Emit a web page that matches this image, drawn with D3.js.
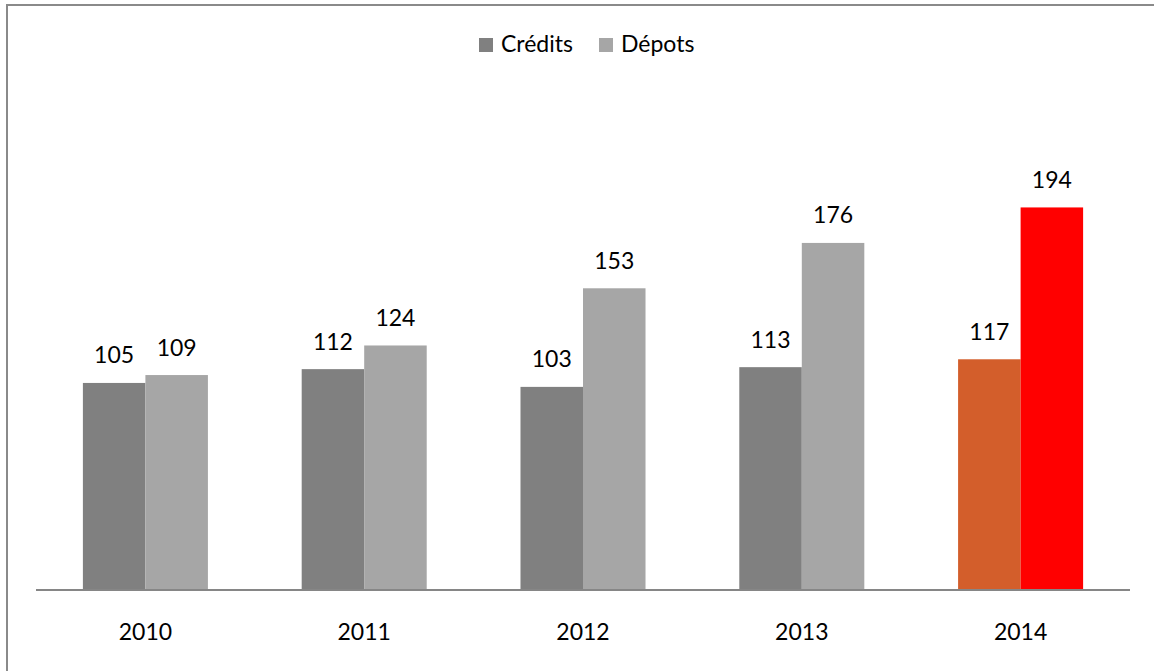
<!DOCTYPE html>
<html>
<head>
<meta charset="utf-8">
<script src="https://cdn.jsdelivr.net/npm/d3@7"></script>
<style>
  html, body { margin: 0; padding: 0; background: #fff; }
  svg { display: block; }
  text { font-family: Lato, "Open Sans", "Liberation Sans", sans-serif; fill: #000; }
</style>
</head>
<body>
<svg id="chart" width="1154" height="671"></svg>
<script>
// Yearly totals by series
const years = ["2010", "2011", "2012", "2013", "2014"];
const seriesNames = ["Crédits", "Dépots"];
const credits = [105, 112, 103, 113, 117];
const depots = [109, 124, 153, 176, 194];
const seriesColors = ["#808080", "#A6A6A6"];
const highlightColors = ["#D35E2B", "#FF0000"]; // last year stands out

const W = 1154, H = 671;
const FONT = 23;
const svg = d3.select("#chart");

// frame (left and top edges visible)
svg.append("path")
  .attr("d", `M7,${H} V5 H${W}`)
  .attr("fill", "none")
  .attr("stroke", "#8a8a8a")
  .attr("stroke-width", 2);

const plotLeft = 36, plotRight = 1130, baseY = 590, topY = 97;

const x = d3.scaleBand()
  .domain(years)
  .range([plotLeft, plotRight])
  .paddingInner(0.4286)
  .paddingOuter(0.2143);

const xSub = d3.scaleBand()
  .domain(seriesNames)
  .range([0, x.bandwidth()]);

const y = d3.scaleLinear().domain([0, 250]).range([baseY, topY]);

const rows = years.map((yr, i) => ({
  year: yr,
  values: [
    { series: seriesNames[0], value: credits[i], s: 0 },
    { series: seriesNames[1], value: depots[i], s: 1 }
  ],
  last: i === years.length - 1
}));

const groups = svg.append("g").selectAll("g")
  .data(rows)
  .join("g")
  .attr("transform", d => `translate(${x(d.year)},0)`);

groups.selectAll("rect")
  .data(d => d.values.map(v => ({ ...v, last: d.last })))
  .join("rect")
  .attr("x", d => xSub(d.series))
  .attr("y", d => y(d.value))
  .attr("width", xSub.bandwidth())
  .attr("height", d => baseY - y(d.value))
  .attr("fill", d => d.last ? highlightColors[d.s] : seriesColors[d.s]);

groups.selectAll("text.val")
  .data(d => d.values)
  .join("text")
  .attr("class", "val")
  .attr("x", d => xSub(d.series) + xSub.bandwidth() / 2)
  .attr("y", d => y(d.value) - 19.5)
  .attr("text-anchor", "middle")
  .attr("font-size", FONT)
  .text(d => d.value);

// category axis
const xAxis = svg.append("g")
  .attr("transform", `translate(0,${baseY})`)
  .call(d3.axisBottom(x).tickSize(0).tickPadding(0));
xAxis.select(".domain").attr("stroke", "#868686").attr("stroke-width", 2).attr("d", `M${plotLeft},0H${plotRight}`);
xAxis.selectAll("text")
  .attr("font-size", FONT)
  .attr("dy", null)
  .attr("y", 50)
  .style("font-family", "Lato, 'Open Sans', sans-serif")
  .attr("fill", "#000");

// legend
const legend = svg.append("g");
const legendItems = [
  { name: seriesNames[0], color: seriesColors[0], sx: 479 },
  { name: seriesNames[1], color: seriesColors[1], sx: 599 }
];
legendItems.forEach(it => {
  legend.append("rect")
    .attr("x", it.sx).attr("y", 38)
    .attr("width", 14).attr("height", 14)
    .attr("fill", it.color);
  legend.append("text")
    .attr("x", it.sx + 22).attr("y", 52)
    .attr("font-size", FONT)
    .text(it.name);
});
</script>
</body>
</html>
